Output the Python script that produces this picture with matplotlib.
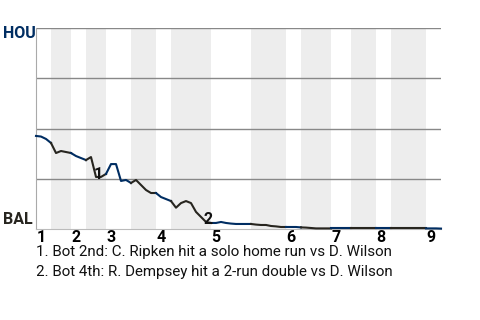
import matplotlib
matplotlib.use("Agg")
import matplotlib.pyplot as plt
from matplotlib.transforms import ScaledTranslation

# Home win-probability style chart: value = HOU win probability (%)
wp = [46.3, 46.0, 44.8, 42.8, 37.8, 38.8, 38.3, 37.8, 36.3, 35.3,
      34.3, 35.8, 25.9, 25.9, 27.4, 32.3, 32.3, 23.9, 24.4, 22.9,
      24.4, 21.9, 19.4, 17.9, 17.9, 15.9, 14.9, 13.9, 10.6, 12.9,
      13.9, 12.9, 8.5, 6.0, 3.5, 3.0, 3.0, 3.5, 3.0, 2.7,
      2.5, 2.5, 2.5, 2.5, 2.2, 2.0, 2.0, 1.5, 1.3, 1.0,
      1.0, 1.0, 1.0, 0.8, 0.7, 0.5, 0.3, 0.3, 0.3, 0.3,
      0.3, 0.3, 0.3, 0.3, 0.3, 0.3, 0.3, 0.3, 0.3, 0.3,
      0.3, 0.3, 0.3, 0.3, 0.3, 0.3, 0.3, 0.3, 0.3, 0.3,
      0.3, 0.2]
# event index where each half inning starts (top1, bot1, top2, ...), plus end
half_starts = [0, 3, 7, 10, 14, 19, 24, 27, 35, 43, 50, 53, 59, 63, 68, 71, 78, 81]
inning_labels = ["1", "2", "3", "4", "5", "6", "7", "8", "9"]
events = [(12, "1"), (34, "2")]
notes = ["1. Bot 2nd: C. Ripken hit a solo home run vs D. Wilson",
         "2. Bot 4th: R. Dempsey hit a 2-run double vs D. Wilson"]

HOU = "#002D62"
BAL = "#27251F"

plt.rcParams['font.family'] = ['Roboto', 'DejaVu Sans']
fig = plt.figure(figsize=(4.8, 3.2), dpi=100)
ax = fig.add_axes([36/480, 1-229/320, 405/480, 201/320])
n_end = half_starts[-1]
ax.set_xlim(0, n_end)
ax.set_ylim(0, 100)

# shaded bottom halves
for i in range(1, len(half_starts) - 1, 2):
    ax.axvspan(half_starts[i], half_starts[i + 1], color="#ededed", lw=0, zorder=0)

for g in [25, 50, 75, 100]:
    ax.axhline(g, color="#888888", lw=1.0, zorder=1)

xs = list(range(len(wp)))
for i in range(len(half_starts) - 1):
    a, b = half_starts[i], half_starts[i + 1]
    col = HOU if i % 2 == 0 else BAL
    ax.plot(xs[a:b + 1], wp[a:b + 1], color=col, lw=1.5, zorder=3,
            solid_joinstyle='round', clip_on=False)

for ex, lab in events:
    ax.annotate(lab, (ex, wp[ex]), xytext=(1.5, 2), textcoords='offset points',
                ha='center', va='center', fontsize=11.5, fontweight='bold',
                color='#111111', zorder=4)

for s in ['top', 'right']:
    ax.spines[s].set_visible(False)
ax.spines['left'].set_color('#aaaaaa')
ax.spines['bottom'].set_color('#bbbbbb')
ax.set_yticks([])
ax.set_xticks([half_starts[2 * k] for k in range(9)])
ax.set_xticklabels(inning_labels, fontsize=11.5, fontweight='bold', ha='left')
ax.tick_params(axis='x', length=0, pad=0.5)
for t in ax.get_xticklabels():
    t.set_transform(t.get_transform() + ScaledTranslation(0.3/72, 0, fig.dpi_scale_trans))

fig.text(3/480, 1-33.5/320, "HOU", color=HOU, fontsize=11.5, fontweight='bold', va='center')
fig.text(3/480, 1-220/320, "BAL", color=BAL, fontsize=11.5, fontweight='bold', va='center')

fig.text(36/480, 1-252/320, notes[0], fontsize=10.9, color='#111111', va='center')
fig.text(36/480, 1-272/320, notes[1], fontsize=10.9, color='#111111', va='center')

fig.savefig("out.png", dpi=100)
